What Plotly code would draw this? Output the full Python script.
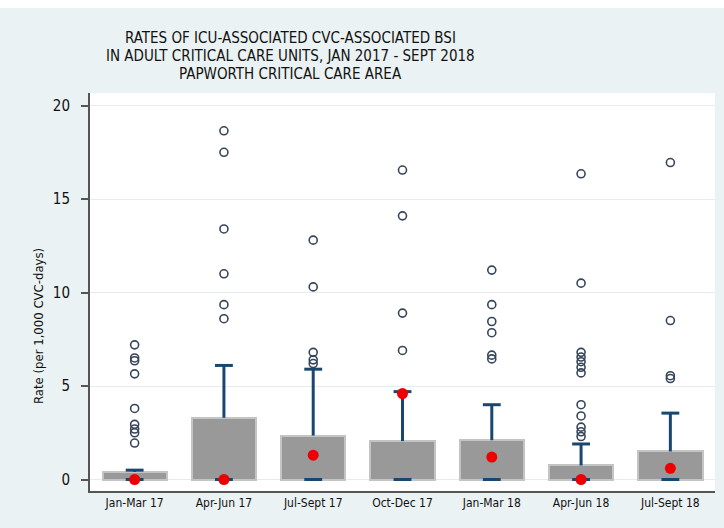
import plotly.graph_objects as go

# Quarterly CVC-associated BSI rates across adult critical care units
quarters = ["Jan-Mar 17", "Apr-Jun 17", "Jul-Sept 17", "Oct-Dec 17",
            "Jan-Mar 18", "Apr-Jun 18", "Jul-Sept 18"]
q1 = [0, 0, 0, 0, 0, 0, 0]
q3 = [0.4, 3.3, 2.35, 2.05, 2.1, 0.75, 1.5]
lower_whisker = [0, 0, 0, 0, 0, 0, 0]
upper_whisker = [0.5, 6.1, 5.9, 4.7, 4.0, 1.9, 3.55]
papworth_rate = [0, 0, 1.3, 4.6, 1.2, 0, 0.6]
outliers = [
    [7.2, 6.5, 6.35, 5.65, 3.8, 2.95, 2.7, 2.5, 1.95],
    [18.65, 17.5, 13.4, 11.0, 9.35, 8.6],
    [12.8, 10.3, 6.8, 6.4, 6.2],
    [16.55, 14.1, 8.9, 6.9],
    [11.2, 9.35, 8.45, 7.85, 6.65, 6.45],
    [16.35, 10.5, 6.8, 6.55, 6.3, 6.0, 5.7, 4.0, 3.4, 2.8, 2.55, 2.3],
    [16.95, 8.5, 5.55, 5.4],
]
title_lines = ["RATES OF ICU-ASSOCIATED CVC-ASSOCIATED BSI",
               "IN ADULT CRITICAL CARE UNITS, JAN 2017 - SEPT 2018",
               "PAPWORTH CRITICAL CARE AREA"]
y_title = "Rate (per 1,000 CVC-days)"

NAVY = "#1a476f"
FONT = "Liberation Sans Narrow, DejaVu Sans Condensed, Liberation Sans, Arial"
pos = list(range(len(quarters)))
cap = 0.1

# plot-area geometry in pixels
W, H = 724, 528
L, R, T, B = 90, 9, 93, 37
PH = H - T - B
PW = W - L - R


def py(px):
    """paper y coordinate for a pixel row measured from the top"""
    return (H - B - px) / PH


def pxx(px):
    """paper x coordinate for a pixel column"""
    return (px - L) / PW


fig = go.Figure()

# interquartile boxes
fig.add_trace(go.Bar(
    x=pos, y=[b - a for a, b in zip(q1, q3)], base=q1, width=0.72,
    marker=dict(color="#999999", line=dict(color="#c4c4c4", width=2)),
    hoverinfo="skip"))

# whiskers and caps
wx, wy = [], []
for i in pos:
    wx += [i, i, None]
    wy += [q3[i], upper_whisker[i], None]
    wx += [i - cap, i + cap, None]
    wy += [upper_whisker[i], upper_whisker[i], None]
    wx += [i - cap, i + cap, None]
    wy += [lower_whisker[i], lower_whisker[i], None]
fig.add_trace(go.Scatter(x=wx, y=wy, mode="lines",
                         line=dict(color=NAVY, width=3), hoverinfo="skip"))

# outlying units
ox, oy = [], []
for i, vals in zip(pos, outliers):
    ox += [i] * len(vals)
    oy += vals
fig.add_trace(go.Scatter(x=ox, y=oy, mode="markers",
                         marker=dict(symbol="circle-open", size=8,
                                     color="#36455a", line=dict(width=1.6))))

# Papworth rate
fig.add_trace(go.Scatter(x=pos, y=papworth_rate, mode="markers",
                         marker=dict(symbol="circle", size=11, color="#ee0000")))

annotations = []
for k, line in enumerate(title_lines):
    annotations.append(dict(
        text=line, xref="paper", yref="paper", x=pxx(290), y=py(38.5 + 17.6 * k),
        xanchor="center", yanchor="middle", showarrow=False, borderpad=0,
        font=dict(size=15, family=FONT, color="#111111")))
annotations.append(dict(
    text=y_title, xref="paper", yref="paper", x=pxx(38), y=py(326),
    xanchor="center", yanchor="middle", textangle=-90, showarrow=False,
    font=dict(size=13, family=FONT, color="#111111")))

fig.update_layout(
    width=W, height=H,
    margin=dict(l=L, r=R, t=T, b=B),
    paper_bgcolor="#eaf2f3", plot_bgcolor="#ffffff",
    showlegend=False, bargap=0,
    font=dict(family=FONT, color="#111111"),
    xaxis=dict(range=[-0.5, 6.5], tickvals=pos, ticktext=quarters,
               showgrid=False, zeroline=False, showline=True,
               linecolor="#555555", linewidth=2, ticks="",
               tickfont=dict(size=12, color="#111111")),
    yaxis=dict(range=[-0.615, 20.67], tickvals=[0, 5, 10, 15, 20],
               showgrid=True, gridcolor="#e4ecee", gridwidth=1,
               zeroline=False, showline=True, linecolor="#555555", linewidth=2,
               ticks="outside", ticklen=7, tickcolor="#555555", tickwidth=1.5,
               ticklabelstandoff=8,
               tickfont=dict(size=15, color="#111111")),
    shapes=[dict(type="rect", xref="paper", yref="paper", x0=-0.2, x1=1.1,
                 y0=py(8), y1=1.5, fillcolor="#ffffff",
                 line=dict(width=0), layer="below")],
    annotations=annotations,
)

fig.write_html("out.html")
